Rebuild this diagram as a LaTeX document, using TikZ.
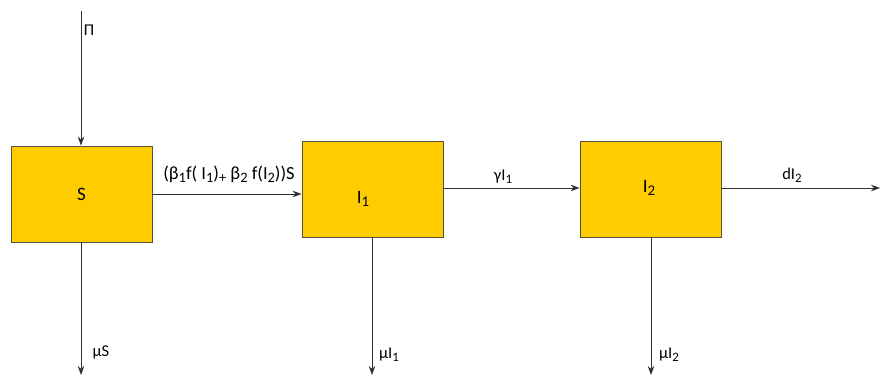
\documentclass[tikz,border=0pt]{standalone}
\usepackage{fontspec}
\setmainfont{Carlito}
\usetikzlibrary{arrows.meta}
\definecolor{boxfill}{HTML}{FFCC00}
\definecolor{boxline}{HTML}{5A5040}
\definecolor{arrline}{HTML}{303030}
\newcommand\subx[1]{\raisebox{-0.35ex}{\scalebox{0.78}{#1}}}
\tikzset{
  compbox/.style={draw=boxline, line width=0.8pt, fill=boxfill, minimum width=141pt, minimum height=96pt, inner sep=0pt, font=\fontsize{19}{22}\selectfont},
  flow/.style={draw=arrline, line width=0.8pt, -{Stealth[length=9pt,width=6.5pt]}},
  lab/.style={font=\fontsize{16.5}{19}\selectfont, inner sep=1pt}
}
\begin{document}
\begin{tikzpicture}[x=1pt,y=-1pt]
\useasboundingbox (0,0) rectangle (881,377);
\node[compbox] (S) at (81.5,194) {S};
\node[compbox] (I1) at (372.5,189) {};
\node[compbox] (I2) at (650.5,189) {};
\node[font=\fontsize{19}{22}\selectfont] (I1t) at (363,199) {I\subx{1}};
\node[font=\fontsize{19}{22}\selectfont] (I2t) at (649,188) {I\subx{2}};
\coordinate (top) at (81,11);
\coordinate (outR) at (880,188);
\coordinate (dS) at (81,375);
\coordinate (dI1) at (372,375);
\coordinate (dI2) at (651,375);
\draw[flow] (top) -- (S.north -| top);
\draw[flow] (S.east |- 0,194) -- (I1.west |- 0,194);
\draw[flow] (I1.east |- 0,188) -- (I2.west |- 0,188);
\draw[flow] (I2.east |- outR) -- (outR);
\draw[flow] (S.south -| dS) -- (dS);
\draw[flow] (I1.south -| dI1) -- (dI1);
\draw[flow] (I2.south -| dI2) -- (dI2);
\node[lab] (pi) at (89,30) {Π};
\node[lab, font=\fontsize{18.5}{21}\selectfont] (lab1) at (229,174) {(β\subx{1}f( I\subx{1})\subx{+} β\subx{2} f(I\subx{2}))S};
\node[lab] (lab2) at (503,177) {γI\subx{1}};
\node[lab] (lab3) at (792,175) {dI\subx{2}};
\node[lab] (lab4) at (101,352) {μS};
\node[lab] (lab5) at (389,355) {μI\subx{1}};
\node[lab] (lab6) at (669,355) {μI\subx{2}};
\end{tikzpicture}
\end{document}
